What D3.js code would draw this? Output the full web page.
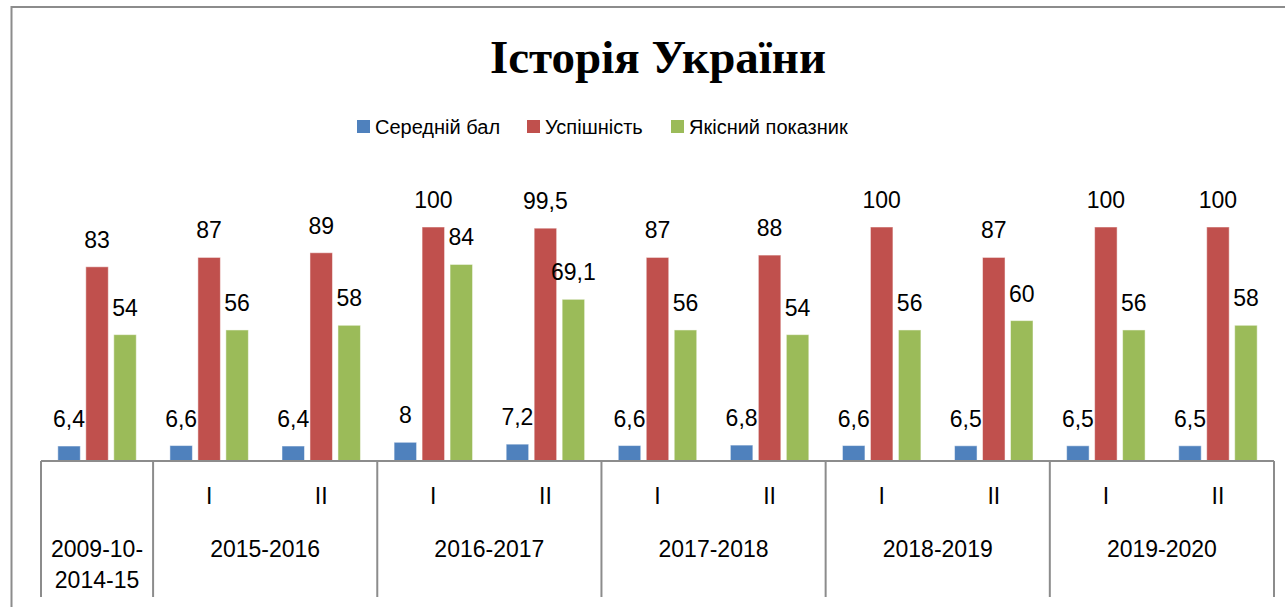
<!DOCTYPE html>
<html>
<head>
<meta charset="utf-8">
<script src="https://cdn.jsdelivr.net/npm/d3@7"></script>
<style>
  html, body { margin: 0; padding: 0; background: #fff; overflow: hidden; }
  svg { display: block; }
</style>
</head>
<body>
<div id="chart"></div>
<script>
// дані з діаграми
const series = ["Середній бал", "Успішність", "Якісний показник"];
const colors = ["#4F81BD", "#C0504D", "#9BBB59"];
const semesters = ["", "I", "II", "I", "II", "I", "II", "I", "II", "I", "II"];
const years = [
  { name: ["2009-10-", "2014-15"], count: 1 },
  { name: ["2015-2016"], count: 2 },
  { name: ["2016-2017"], count: 2 },
  { name: ["2017-2018"], count: 2 },
  { name: ["2018-2019"], count: 2 },
  { name: ["2019-2020"], count: 2 }
];
const avgScore = [6.4, 6.6, 6.4, 8, 7.2, 6.6, 6.8, 6.6, 6.5, 6.5, 6.5];
const success = [83, 87, 89, 100, 99.5, 87, 88, 100, 87, 100, 100];
const quality = [54, 56, 58, 84, 69.1, 56, 54, 56, 60, 56, 58];

const values = [avgScore, success, quality];

const W = 1285, H = 607;
const labelFont = "'Liberation Sans', Arial, sans-serif";

const svg = d3.select("#chart").append("svg")
  .attr("width", W)
  .attr("height", H);

// рамка
svg.append("rect")
  .attr("x", 11.5).attr("y", 7)
  .attr("width", 1300).attr("height", 700)
  .attr("fill", "none")
  .attr("stroke", "#8c8c8c")
  .attr("stroke-width", 2);

// заголовок
svg.append("text")
  .attr("x", 658).attr("y", 73)
  .attr("text-anchor", "middle")
  .style("font-family", "'Liberation Serif', 'Times New Roman', serif")
  .style("font-weight", "bold")
  .style("font-size", "47px")
  .text("Історія України");

// легенда
const legendX = [357, 527, 671];
const legend = svg.append("g");
series.forEach((s, i) => {
  legend.append("rect")
    .attr("x", legendX[i]).attr("y", 120)
    .attr("width", 13).attr("height", 13)
    .attr("fill", colors[i]);
  legend.append("text")
    .attr("x", legendX[i] + 18).attr("y", 134)
    .style("font-family", labelFont)
    .style("font-size", "20px")
    .attr("fill", "#000")
    .text(s);
});

const x0 = 41, x1 = 1274, y0 = 461;

const x = d3.scaleBand()
  .domain(d3.range(semesters.length))
  .range([x0, x1])
  .paddingInner(0).paddingOuter(0);

const bw = x.bandwidth();
const xs = d3.scaleBand()
  .domain(d3.range(series.length))
  .range([bw * 0.15, bw * 0.85])
  .paddingInner(0.196);

const y = d3.scaleLinear()
  .domain([0, 100])
  .range([y0, 227]);

// стовпці
const groups = svg.append("g").selectAll("g")
  .data(series)
  .join("g")
  .attr("fill", (d, i) => colors[i]);

groups.each(function (s, si) {
  const g = d3.select(this);
  g.selectAll("rect")
    .data(values[si])
    .join("rect")
    .attr("x", (d, i) => x(i) + xs(si))
    .attr("y", d => y(d))
    .attr("width", xs.bandwidth())
    .attr("height", d => y0 - y(d))
    .attr("stroke", "#ffffff")
    .attr("stroke-opacity", 0.5)
    .attr("stroke-width", 1);

  g.selectAll("text")
    .data(values[si])
    .join("text")
    .attr("x", (d, i) => x(i) + xs(si) + xs.bandwidth() / 2)
    .attr("y", d => y(d) - 19)
    .attr("text-anchor", "middle")
    .attr("fill", "#000")
    .style("font-family", labelFont)
    .style("font-size", "23px")
    .text(d => String(d).replace(".", ","));
});

// вісь категорій
const axis = svg.append("g")
  .attr("stroke", "#8c8c8c")
  .attr("stroke-width", 2);

axis.append("line")
  .attr("x1", x0).attr("x2", x1)
  .attr("y1", y0).attr("y2", y0);

let idx = 0;
const bounds = [x0];
years.forEach(yr => {
  idx += yr.count;
  bounds.push(idx < semesters.length ? x(idx) : x1);
});
axis.selectAll("line.sep")
  .data(bounds)
  .join("line")
  .attr("class", "sep")
  .attr("x1", d => d).attr("x2", d => d)
  .attr("y1", y0).attr("y2", 597);

// підписи семестрів
svg.append("g").selectAll("text")
  .data(semesters)
  .join("text")
  .attr("x", (d, i) => x(i) + bw / 2)
  .attr("y", 504)
  .attr("text-anchor", "middle")
  .style("font-family", labelFont)
  .style("font-size", "23px")
  .text(d => d);

// підписи років
const yearG = svg.append("g");
years.forEach((yr, i) => {
  const cx = (bounds[i] + bounds[i + 1]) / 2;
  const t = yearG.append("text")
    .attr("x", cx).attr("y", 557)
    .attr("text-anchor", "middle")
    .style("font-family", labelFont)
    .style("font-size", "23px");
  yr.name.forEach((line, li) => {
    t.append("tspan")
      .attr("x", cx)
      .attr("y", 557 + li * 31)
      .text(line);
  });
});
</script>
</body>
</html>
